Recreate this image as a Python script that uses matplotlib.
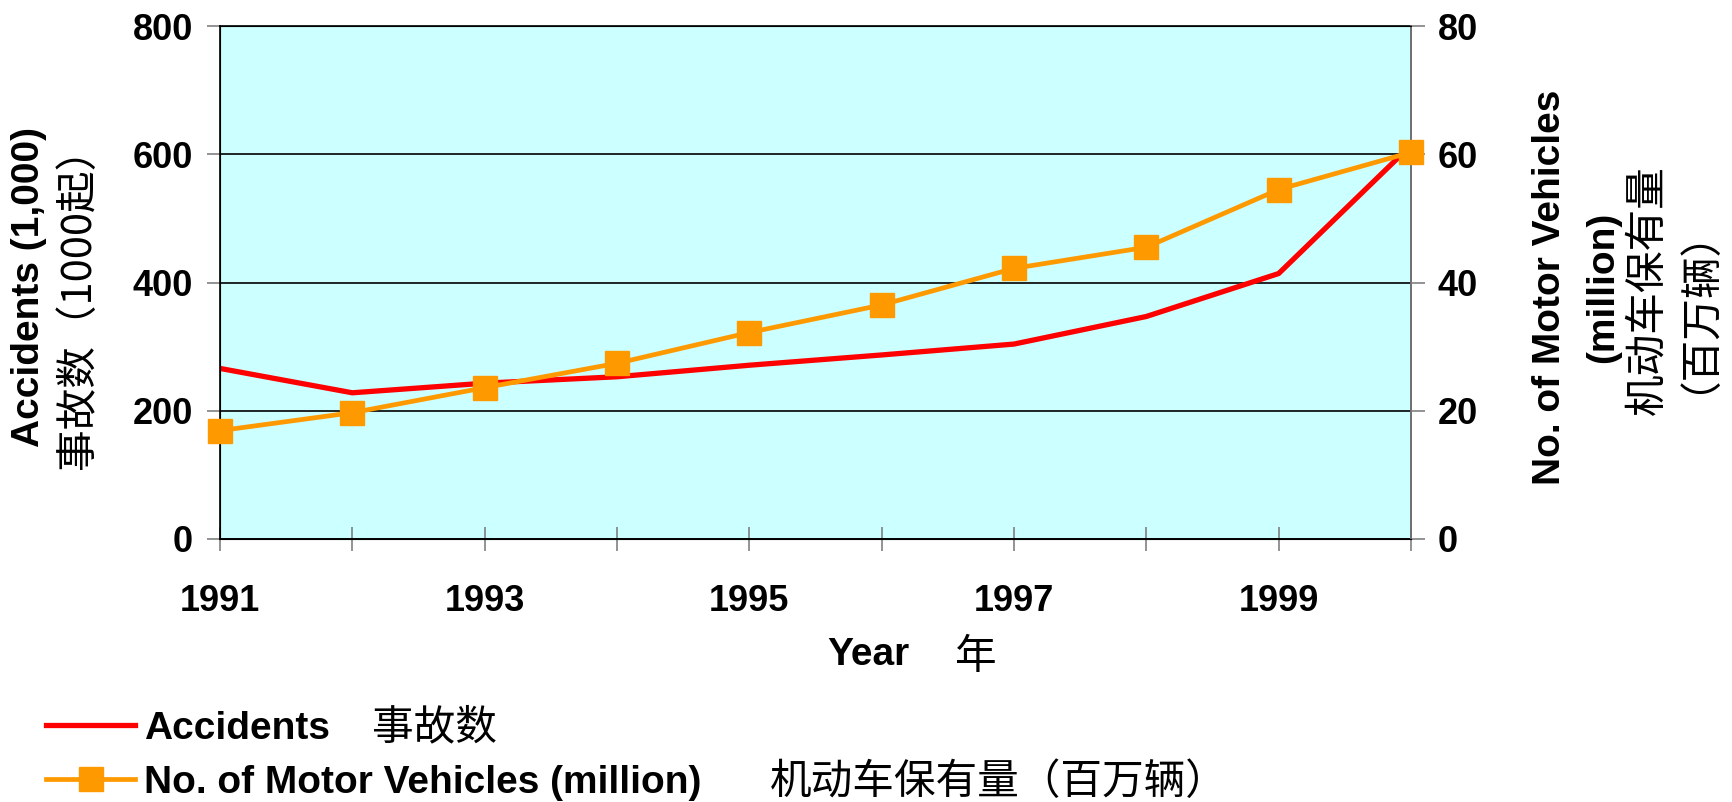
import matplotlib
matplotlib.use("Agg")
import matplotlib.pyplot as plt

LATIN = "Liberation Sans"
CJK = "Noto Sans CJK SC"

years = [1991, 1992, 1993, 1994, 1995, 1996, 1997, 1998, 1999, 2000]
accidents = [266, 228, 243, 253, 271, 287, 304, 347, 414, 614]      # 1000 起
vehicles = [16.9, 19.7, 23.6, 27.4, 32.2, 36.5, 42.2, 45.5, 54.5, 60.3]  # 百万辆
xlabels = [str(y) if y % 2 == 1 else "" for y in years]
left_ticks = [0, 200, 400, 600, 800]
right_ticks = [0, 20, 40, 60, 80]

RED = "#FF0000"
ORANGE = "#FF9900"
BG = "#CCFFFF"
TICKC = "#808080"
CJK_SIZE = 30

fig = plt.figure(figsize=(17.33, 8.02), dpi=100)
ax = fig.add_axes([220 / 1733, 1 - 539 / 802, 1191 / 1733, 513 / 802])
ax.set_facecolor(BG)
ax2 = ax.twinx()

l1, = ax.plot(years, accidents, color=RED, lw=3.8, zorder=3)
l2, = ax2.plot(years, vehicles, color=ORANGE, lw=3.4, marker="s", ms=17,
               mec=ORANGE, mfc=ORANGE, clip_on=False, zorder=4)

ax.set_xlim(1991, 2000)
ax.set_ylim(0, 800)
ax2.set_ylim(0, 80)
ax.set_xticks(years)
ax.set_xticklabels(xlabels)
ax.set_yticks(left_ticks)
ax2.set_yticks(right_ticks)

ax.yaxis.grid(True, color="black", lw=1.2)
ax.set_axisbelow(True)

tfont = dict(family=LATIN, weight="bold", size=26)
for lab in ax.get_xticklabels() + ax.get_yticklabels() + ax2.get_yticklabels():
    lab.set_fontproperties(matplotlib.font_manager.FontProperties(**tfont))

ax.tick_params(axis="x", direction="inout", length=17, width=1.2, color=TICKC, pad=24)
ax.tick_params(axis="y", direction="out", length=9.5, width=1.2, color=TICKC, pad=10)
ax2.tick_params(axis="y", direction="out", length=10, width=1.2, color=TICKC, pad=9)

for s in ax.spines.values():
    s.set_color("black")
    s.set_linewidth(1.2)
ax2.spines["right"].set_color(TICKC)
ax2.spines["right"].set_linewidth(1.2)

# y axis titles
fig.text(29 / 1733, 0.642, "Accidents (1,000)", rotation=90, ha="center", va="center",
         family=LATIN, weight="bold", size=28)
fig.text(79 / 1733, 0.628, "事故数（1000起）", rotation=90, ha="center", va="center",
         family=[CJK, LATIN], size=CJK_SIZE)

fig.text(1550 / 1733, 0.642, "No. of Motor Vehicles", rotation=90, ha="center", va="center",
         family=LATIN, weight="bold", size=28)
fig.text(1603 / 1733, 0.642, "(million)", rotation=90, ha="center", va="center",
         family=LATIN, weight="bold", size=28)
fig.text(1662 / 1733, 0.638, "机动车保有量\n（百万辆）", rotation=90, ha="center", va="center",
         multialignment="center", linespacing=0.63,
         family=[CJK, LATIN], size=CJK_SIZE)

# x axis title
fig.text(868 / 1733, 1 - 655 / 802, "Year", ha="center", va="center",
         family=LATIN, weight="bold", size=28)
fig.text(976 / 1733, 1 - 657 / 802, "年", ha="center", va="center",
         family=[CJK, LATIN], size=CJK_SIZE)

# legend
leg = fig.legend([l1, l2], ["Accidents", "No. of Motor Vehicles (million)"],
                 loc="upper left", bbox_to_anchor=(46 / 1733, 1 - 711 / 802),
                 frameon=False, borderpad=0, borderaxespad=0, numpoints=1,
                 handlelength=2.3, handletextpad=0.23, labelspacing=0.46,
                 prop=matplotlib.font_manager.FontProperties(family=LATIN, weight="bold", size=28))
fig.text(372 / 1733, 1 - 728 / 802, "事故数", ha="left", va="center",
         family=[CJK, LATIN], size=CJK_SIZE)
fig.text(770 / 1733, 1 - 783 / 802, "机动车保有量（百万辆）", ha="left", va="center",
         family=[CJK, LATIN], size=CJK_SIZE)

fig.savefig("out.png", dpi=100, facecolor="white")
